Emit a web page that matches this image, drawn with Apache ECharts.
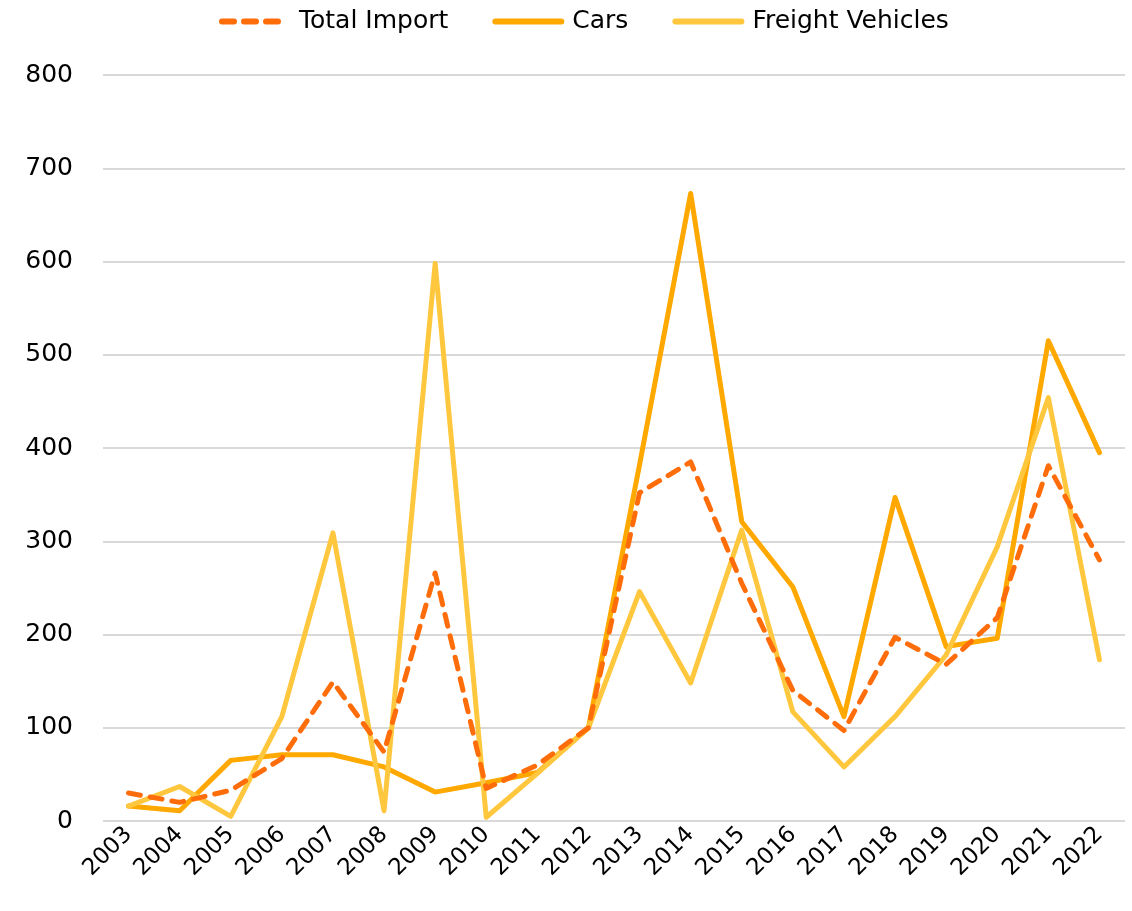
<!DOCTYPE html>
<html>
<head>
<meta charset="utf-8">
<script src="https://cdn.jsdelivr.net/npm/echarts@6/dist/echarts.min.js"></script>
<style>
html,body{margin:0;padding:0;background:#fff;}
#chart{width:1132px;height:911px;}
</style>
</head>
<body>
<div id="chart"></div>
<script>
const years = ['2003','2004','2005','2006','2007','2008','2009','2010','2011','2012','2013','2014','2015','2016','2017','2018','2019','2020','2021','2022'];
const totalImport = [30, 20, 33, 67, 149, 74, 266, 35, 60, 100, 352, 385, 255, 140, 97, 197, 168, 218, 381, 280];
const cars = [16, 11, 65, 71, 71, 58, 31, 41, 52, 100, 382, 673, 321, 251, 112, 347, 187, 196, 515, 395];
const freight = [16, 37, 5, 112, 309, 11, 598, 4, 51, 100, 246, 148, 312, 117, 58, 112, 178, 294, 454, 173];
const yTicks = [0, 100, 200, 300, 400, 500, 600, 700, 800];

const font = 'DejaVu Sans';
const chart = echarts.init(document.getElementById('chart'));
chart.setOption({
  animation: false,
  textStyle: {fontFamily: font},
  legend: {
    top: 4,
    left: 214,
    itemWidth: 66,
    itemHeight: 10,
    itemGap: 44,
    textStyle: {fontFamily: font, fontSize: 25, color: '#000', padding: [0, 0, 0, 6]},
    itemStyle: {opacity: 0},
    lineStyle: {width: 6},
    data: ['Total Import', 'Cars', 'Freight Vehicles']
  },
  grid: {left: 103, right: 7, top: 75, bottom: 90, containLabel: false},
  xAxis: {
    type: 'category',
    data: years,
    boundaryGap: true,
    axisLine: {show: false},
    axisTick: {show: false},
    axisLabel: {rotate: 45, fontFamily: font, fontSize: 23, color: '#000', margin: 10}
  },
  yAxis: {
    type: 'value',
    min: yTicks[0],
    max: yTicks[yTicks.length - 1],
    interval: 100,
    axisLine: {show: false},
    axisTick: {show: false},
    axisLabel: {fontFamily: font, fontSize: 25, color: '#000', margin: 30},
    splitLine: {lineStyle: {color: '#d9d9d9', width: 2}}
  },
  series: [
    {
      name: 'Total Import', type: 'line', data: totalImport, symbol: 'none',
      lineStyle: {color: '#FF6D0A', width: 5, type: [12, 10], cap: 'round', join: 'round'},
      itemStyle: {color: '#FF6D0A'}, z: 5
    },
    {
      name: 'Cars', type: 'line', data: cars, symbol: 'none',
      lineStyle: {color: '#FFA800', width: 5, cap: 'round', join: 'round'},
      itemStyle: {color: '#FFA800'}, z: 3
    },
    {
      name: 'Freight Vehicles', type: 'line', data: freight, symbol: 'none',
      lineStyle: {color: '#FFC73D', width: 5, cap: 'round', join: 'round'},
      itemStyle: {color: '#FFC73D'}, z: 4
    }
  ]
});
</script>
</body>
</html>
